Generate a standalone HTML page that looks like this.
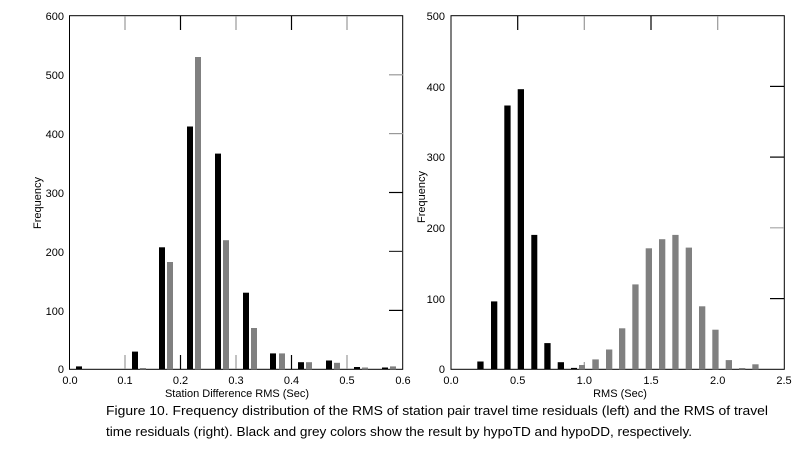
<!DOCTYPE html>
<html><head><meta charset="utf-8"><style>body{margin:0;background:#fff}svg{display:block}</style></head><body>
<svg width="800" height="449" xmlns="http://www.w3.org/2000/svg" font-family="Liberation Sans, sans-serif">
<rect width="800" height="449" fill="#fff"/>
<g id="L">
<rect x="69.5" y="15.7" width="333.2" height="353.6" fill="none" stroke="#000" stroke-width="1"/>
<g stroke-width="1.2">
<line x1="125" y1="16" x2="125" y2="30" stroke="#999"/>
<line x1="180.5" y1="16" x2="180.5" y2="30" stroke="#000"/>
<line x1="236" y1="16" x2="236" y2="30" stroke="#999"/>
<line x1="291.5" y1="16" x2="291.5" y2="30" stroke="#000"/>
<line x1="347" y1="16" x2="347" y2="30" stroke="#999"/>
<line x1="125" y1="355" x2="125" y2="369" stroke="#999"/>
<line x1="180.5" y1="355" x2="180.5" y2="369" stroke="#000"/>
<line x1="236" y1="355" x2="236" y2="369" stroke="#999"/>
<line x1="291.5" y1="355" x2="291.5" y2="369" stroke="#000"/>
<line x1="347" y1="355" x2="347" y2="369" stroke="#999"/>
<line x1="389" y1="74.8" x2="403" y2="74.8" stroke="#999"/>
<line x1="389" y1="133.6" x2="403" y2="133.6" stroke="#999"/>
<line x1="389" y1="192.5" x2="403" y2="192.5" stroke="#000"/>
<line x1="389" y1="251.4" x2="403" y2="251.4" stroke="#333"/>
<line x1="389" y1="310.4" x2="403" y2="310.4" stroke="#000"/>
</g>
<g fill="#000">
<rect x="76" y="366.4" width="6" height="3"/>
<rect x="132" y="351.6" width="6" height="17.7"/>
<rect x="159" y="247.3" width="6" height="122"/>
<rect x="187" y="126.5" width="6" height="242.8"/>
<rect x="215" y="153.6" width="6" height="215.7"/>
<rect x="243" y="292.7" width="6" height="76.6"/>
<rect x="270" y="353.4" width="6" height="15.9"/>
<rect x="298" y="362.2" width="6" height="7.1"/>
<rect x="326" y="360.5" width="6" height="8.8"/>
<rect x="354" y="367" width="6" height="2.3"/>
<rect x="382" y="367.5" width="6" height="1.8"/>
</g>
<g fill="#808080">
<rect x="140" y="368" width="6" height="1.3"/>
<rect x="167" y="262" width="6" height="107.3"/>
<rect x="195" y="57" width="6" height="312.3"/>
<rect x="223" y="240.2" width="6" height="129.1"/>
<rect x="251" y="328" width="6" height="41.3"/>
<rect x="279" y="353.4" width="6" height="15.9"/>
<rect x="306" y="362.2" width="6" height="7.1"/>
<rect x="334" y="362.8" width="6" height="6.5"/>
<rect x="362" y="367.5" width="6" height="1.8"/>
<rect x="390" y="366.4" width="6" height="2.9"/>
</g>
<g font-size="11" text-anchor="end">
<text x="64" y="20">600</text><text x="64" y="79">500</text><text x="64" y="138">400</text>
<text x="64" y="197">300</text><text x="64" y="256">200</text><text x="64" y="315">100</text><text x="64" y="373">0</text>
</g>
<g font-size="11" text-anchor="middle">
<text x="70" y="384">0.0</text><text x="125" y="384">0.1</text><text x="180.5" y="384">0.2</text>
<text x="236" y="384">0.3</text><text x="291.5" y="384">0.4</text><text x="347" y="384">0.5</text><text x="403" y="384">0.6</text>
<text x="237" y="397">Station Difference RMS (Sec)</text>
<text transform="translate(41,203) rotate(-90)">Frequency</text>
</g>
</g>
<g>
<rect x="451" y="15.7" width="333.3" height="353.6" fill="none" stroke="#000" stroke-width="1"/>
<g stroke-width="1.2">
<line x1="517.7" y1="16" x2="517.7" y2="30" stroke="#000"/>
<line x1="584.3" y1="16" x2="584.3" y2="30" stroke="#999"/>
<line x1="651" y1="16" x2="651" y2="30" stroke="#000"/>
<line x1="717.7" y1="16" x2="717.7" y2="30" stroke="#999"/>
<line x1="584.3" y1="362" x2="584.3" y2="369" stroke="#999"/>
<line x1="770" y1="86.4" x2="784" y2="86.4" stroke="#000"/>
<line x1="770" y1="157.1" x2="784" y2="157.1" stroke="#000"/>
<line x1="770" y1="227.8" x2="784" y2="227.8" stroke="#aaa"/>
<line x1="770" y1="298.6" x2="784" y2="298.6" stroke="#000"/>
</g>
<g fill="#000">
<rect x="477.3" y="361.5" width="6.3" height="7.8"/>
<rect x="491" y="301.4" width="6.3" height="67.9"/>
<rect x="504.3" y="105.5" width="6.3" height="263.8"/>
<rect x="517.7" y="89.2" width="6.3" height="280.1"/>
<rect x="531.3" y="234.9" width="6" height="134.4"/>
<rect x="544.3" y="343.1" width="6.3" height="26.2"/>
<rect x="557.7" y="362.2" width="6.3" height="7.1"/>
<rect x="571" y="367.9" width="6" height="1.4"/>
</g>
<g fill="#808080">
<rect x="579" y="365" width="6" height="4.3"/>
<rect x="592.3" y="359.4" width="6.5" height="9.9"/>
<rect x="606" y="349.5" width="6.3" height="19.8"/>
<rect x="619" y="328.3" width="6.3" height="41"/>
<rect x="632.3" y="284.4" width="6.3" height="84.9"/>
<rect x="645.7" y="248.3" width="6.3" height="121"/>
<rect x="659" y="239.2" width="6.3" height="130.1"/>
<rect x="672.3" y="234.9" width="6.3" height="134.4"/>
<rect x="685.7" y="247.6" width="6.3" height="121.7"/>
<rect x="699" y="306.3" width="6.3" height="63"/>
<rect x="712.3" y="329.7" width="6.3" height="39.6"/>
<rect x="725.7" y="360.1" width="6.3" height="9.2"/>
<rect x="739" y="368" width="6.3" height="1.3"/>
<rect x="752.3" y="364.3" width="6.3" height="5"/>
</g>
<g font-size="11" text-anchor="end">
<text x="445" y="20">500</text><text x="445" y="91">400</text><text x="445" y="161">300</text>
<text x="445" y="232">200</text><text x="445" y="303">100</text><text x="445" y="373">0</text>
</g>
<g font-size="11" text-anchor="middle">
<text x="451" y="384">0.0</text><text x="517.7" y="384">0.5</text><text x="584.3" y="384">1.0</text>
<text x="651" y="384">1.5</text><text x="717.7" y="384">2.0</text><text x="784" y="384">2.5</text>
<text x="620" y="397">RMS (Sec)</text>
<text transform="translate(425,197) rotate(-90)">Frequency</text>
</g>
</g>
<g font-size="13" fill="#000">
<text x="106" y="415" textLength="662" lengthAdjust="spacingAndGlyphs">Figure 10. Frequency distribution of the RMS of station pair travel time residuals (left) and the RMS of travel</text>
<text x="106" y="436" textLength="586" lengthAdjust="spacingAndGlyphs">time residuals (right). Black and grey colors show the result by hypoTD and hypoDD, respectively.</text>
</g>
</svg>
</body></html>
